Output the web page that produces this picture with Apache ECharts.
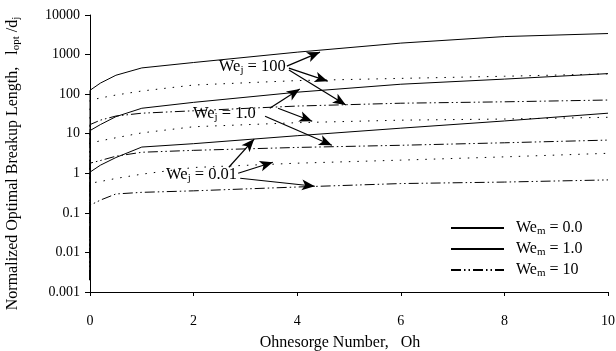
<!DOCTYPE html>
<html>
<head>
<meta charset="utf-8">
<script src="https://cdn.jsdelivr.net/npm/echarts@6/dist/echarts.min.js"></script>
<style>
  html, body { margin: 0; padding: 0; background: #fff; }
  #chart { width: 616px; height: 351px; }
</style>
</head>
<body>
<div id="chart"></div>
<script>
// Ohnesorge number samples (first 0 repeated: curves drop to the axis at Oh = 0)
const ohValues = [0, 0, 0.2, 0.5, 1, 2, 4, 6, 8, 10];

// We_j = 100
const wej100Wem0 = [0.002, 125, 190, 300, 460, 630, 1150, 1950, 2850, 3400];
const wej100Wem1 = [0.002, 70, 80, 95, 120, 170, 220, 250, 283, 325];
const wej100Wem10 = [0.002, 17, 22, 28, 33, 38, 50, 59, 64, 71];
// We_j = 1.0
const wej1Wem0 = [0.002, 12, 17, 27, 44, 62, 112, 178, 240, 330];
const wej1Wem1 = [0.002, 5.8, 6.6, 7.9, 10.5, 15, 19, 22, 23.5, 26];
const wej1Wem10 = [0.002, 1.8, 2.1, 2.7, 3.4, 3.8, 4.5, 5.1, 5.9, 6.9];
// We_j = 0.01
const wej001Wem0 = [0.002, 1.07, 1.6, 2.5, 4.6, 5.6, 8.9, 13.8, 21, 33];
const wej001Wem1 = [0.002, 0.56, 0.62, 0.74, 0.95, 1.4, 1.8, 2.15, 2.6, 3.2];
const wej001Wem10 = [0.002, 0.155, 0.21, 0.3, 0.33, 0.36, 0.45, 0.55, 0.6, 0.68];

const legendNames = ["We_m = 0.0", "We_m = 1.0", "We_m = 10"];
const yTickLabels = ["0.001", "0.01", "0.1", "1", "10", "100", "1000", "10000"];

// annotation text: [label, Oh, value] (text ends at that point)
const weJLabels = ["100", "1.0", "0.01"];
const weJLabelPos = [[3.78, 483], [3.2, 33], [2.84, 0.94]];
// arrows: [fromOh, fromValue, toOh, toValue]
const arrows = [
  [3.8, 512, 4.44, 1156],
  [3.84, 455, 4.59, 213],
  [3.84, 405, 4.94, 53],
  [3.47, 44, 4.05, 134],
  [3.63, 44, 4.29, 20.7],
  [3.38, 27.7, 4.67, 5.1],
  [2.68, 1.42, 3.17, 7.3],
  [2.86, 1.0, 3.53, 1.9],
  [2.9, 0.75, 4.34, 0.47],
];

const FONT = "Liberation Serif";
const dotted = [1.5, 7];
const dashDot = [10, 3, 1.5, 3, 1.5, 3];

function pairs(values) {
  return values.map((v, i) => [ohValues[i], v]);
}

function curve(name, values, type) {
  return {
    name: name,
    type: "line",
    data: pairs(values),
    showSymbol: false,
    symbol: "none",
    silent: true,
    lineStyle: { color: "#000", width: 1, type: type },
    itemStyle: { color: "#000" },
  };
}

const chart = echarts.init(document.getElementById("chart"));

const subRich = {
  sub: { fontFamily: FONT, fontSize: 11, color: "#000", padding: [7, 0, 0, 0] },
};

const option = {
  animation: false,
  grid: { left: 90, top: 15, width: 518, height: 277, outerBoundsMode: "none" },
  legend: {
    orient: "vertical",
    left: 450,
    top: 220,
    padding: 0,
    itemWidth: 53,
    itemHeight: 14,
    itemGap: 4,
    itemStyle: { opacity: 0 },
    data: [
      { name: legendNames[0] },
      { name: legendNames[1], lineStyle: { type: "solid" } },
      { name: legendNames[2] },
    ],
    formatter: (name) => name.replace("We_m", "We{sub|m}"),
    textStyle: {
      fontFamily: FONT,
      fontSize: 16,
      color: "#000",
      padding: [0, 0, 0, 7],
      rich: subRich,
    },
  },
  xAxis: {
    type: "value",
    min: 0,
    max: 10,
    interval: 2,
    name: "Ohnesorge Number,   Oh",
    nameLocation: "middle",
    nameGap: 43,
    nameTextStyle: {
      fontFamily: FONT,
      fontSize: 16,
      color: "#000",
      padding: [0, 18, 0, 0],
    },
    axisLine: { lineStyle: { color: "#000", width: 1 } },
    axisTick: { length: 4, lineStyle: { color: "#000" } },
    axisLabel: { fontFamily: FONT, fontSize: 14, color: "#000", margin: 22 },
    splitLine: { show: false },
  },
  yAxis: {
    type: "log",
    logBase: 10,
    min: 0.001,
    max: 10000,
    name: "Normalized Optimal Breakup Length,   l{sub|opt} /d{sub|j}",
    nameLocation: "middle",
    nameGap: 68,
    nameTextStyle: {
      fontFamily: FONT,
      fontSize: 16,
      color: "#000",
      padding: [0, 20, 0, 0],
      rich: subRich,
    },
    axisLine: { show: true, lineStyle: { color: "#000", width: 1 } },
    axisTick: { show: true, length: 5, lineStyle: { color: "#000" } },
    axisLabel: {
      fontFamily: FONT,
      fontSize: 14,
      color: "#000",
      margin: 10,
      formatter: (v) => yTickLabels[Math.round(Math.log10(v)) + 3],
    },
    splitLine: { show: false },
  },
  series: [
    curve(legendNames[0], wej100Wem0, "solid"),
    curve(legendNames[1], wej100Wem1, dotted),
    curve(legendNames[2], wej100Wem10, dashDot),
    curve(legendNames[0], wej1Wem0, "solid"),
    curve(legendNames[1], wej1Wem1, dotted),
    curve(legendNames[2], wej1Wem10, dashDot),
    curve(legendNames[0], wej001Wem0, "solid"),
    curve(legendNames[1], wej001Wem1, dotted),
    curve(legendNames[2], wej001Wem10, dashDot),
    {
      name: "annotations",
      type: "line",
      data: [],
      silent: true,
      markLine: {
        silent: true,
        symbol: ["none", "arrow"],
        symbolSize: [8, 13],
        label: { show: false },
        lineStyle: { color: "#000", width: 1.2, type: "solid" },
        data: arrows.map((a) => [
          { coord: [a[0], a[1]] },
          { coord: [a[2], a[3]] },
        ]),
      },
      markPoint: {
        silent: true,
        symbol: "circle",
        symbolSize: 0,
        data: weJLabels.map((t, i) => ({
          coord: weJLabelPos[i],
          value: t,
          label: {
            show: true,
            position: "left",
            distance: 0,
            formatter: "We{sub|j} = " + t,
            fontFamily: FONT,
            fontSize: 16.5,
            color: "#000",
            rich: subRich,
          },
        })),
      },
    },
  ],
};

chart.setOption(option);
</script>
</body>
</html>
